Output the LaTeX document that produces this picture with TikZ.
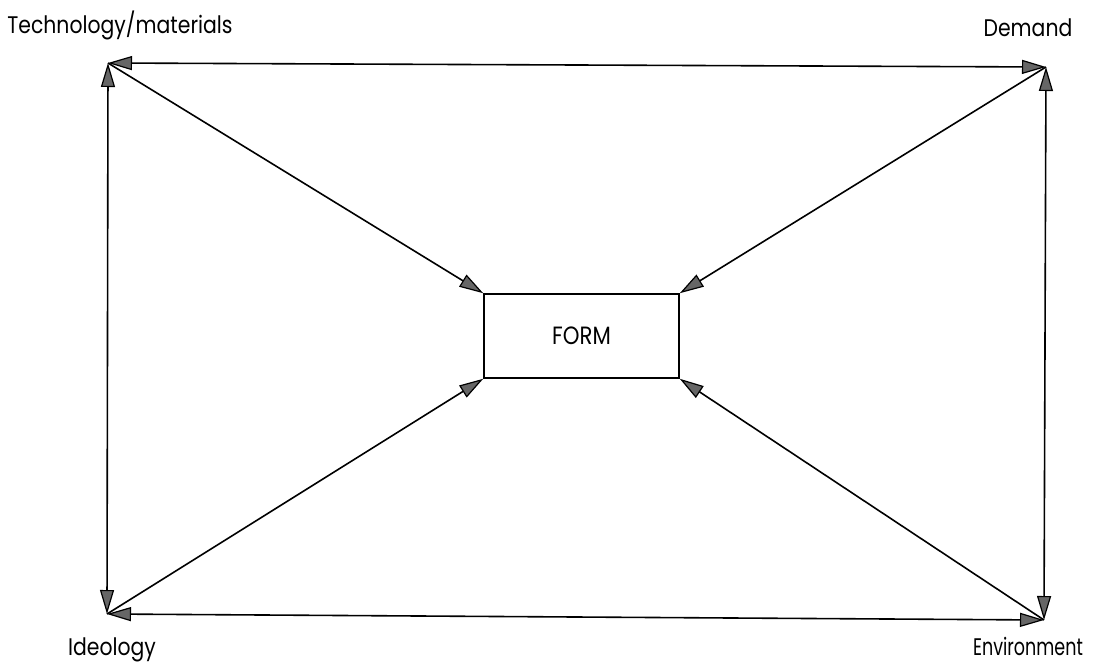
\documentclass[tikz,border=0pt]{standalone}
\usepackage{fontspec}
\setmainfont{Poppins}[FakeStretch=0.85]
\newfontfamily\envfont{Poppins}[FakeStretch=0.73]
\usetikzlibrary{arrows.meta}
\begin{document}
\begin{tikzpicture}[x=1pt,y=-1pt,
  tip/.tip={Triangle[length=24pt,width=14pt,fill=black!60,line width=1.2pt]},
  conn/.style={line width=1.6pt,draw=black},
  lbl/.style={font=\fontsize{24}{28}\selectfont,inner sep=0pt,anchor=base},
  formbox/.style={draw,line width=1.6pt,minimum width=195pt,minimum height=84pt,inner sep=0pt,font=\fontsize{25}{28}\selectfont}]
\useasboundingbox (0,0) rectangle (1096,664);
\coordinate (TL) at (108,63);
\coordinate (TR) at (1046,67);
\coordinate (BL) at (107,614);
\coordinate (BR) at (1044,620);
\node[formbox] (form) at (581.5,336) {FORM};
\node[lbl] (t1) at (120,33) {Technology/materials};
\node[lbl] (t2) at (1028,36) {Demand};
\node[lbl] (t3) at (112,655) {Ideology};
\node[lbl,font=\envfont\fontsize{24}{28}\selectfont] (t4) at (1028,655) {Environment};
\draw[conn,tip-tip] (TL) -- (TR);
\draw[conn,tip-tip] (BL) -- (BR);
\draw[conn,tip-tip] (TL) -- (BL);
\draw[conn,tip-tip] (TR) -- (BR);
\draw[conn,-tip] (TL) -- (form.north west);
\draw[conn,-tip] (TR) -- (form.north east);
\draw[conn,-tip] (BL) -- (form.south west);
\draw[conn,-tip] (BR) -- (form.south east);
\end{tikzpicture}
\end{document}
